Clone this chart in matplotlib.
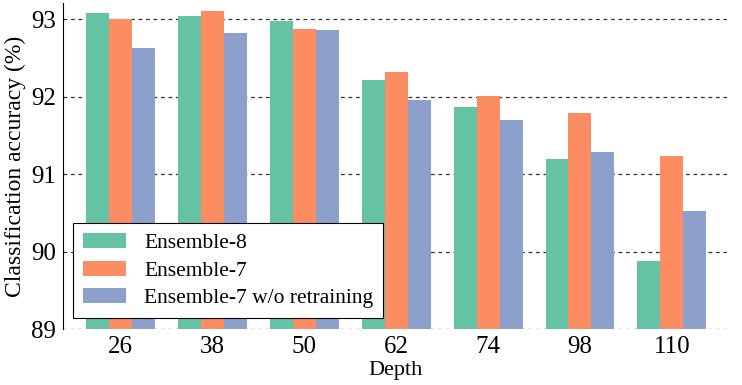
import numpy as np
import matplotlib.pyplot as plt

depths = ["26", "38", "50", "62", "74", "98", "110"]
ensemble_8 = [93.08, 93.04, 92.98, 92.22, 91.87, 91.20, 89.88]
ensemble_7 = [93.00, 93.11, 92.87, 92.32, 92.01, 91.79, 91.24]
ensemble_7_noretrain = [92.63, 92.82, 92.86, 91.96, 91.70, 91.29, 90.52]

labels = ["Ensemble-8", "Ensemble-7", "Ensemble-7 w/o retraining"]
colors = ["#66c2a5", "#fc8d62", "#8da0cb"]

plt.rcParams['font.family'] = ['Liberation Serif', 'DejaVu Serif']

fig = plt.figure(figsize=(7.42, 3.85), dpi=100)
ax = fig.add_axes([0.085, 0.145, 0.895, 0.847])

x = np.arange(len(depths))
w = 0.25
series = [ensemble_8, ensemble_7, ensemble_7_noretrain]
for i, (vals, lab, col) in enumerate(zip(series, labels, colors)):
    ax.bar(x + (i - 1) * w, np.array(vals) - 89, w, bottom=89, color=col, label=lab)

ax.set_ylim(89, 93.21)
ax.set_xlim(-0.62, 6.6)
ax.set_yticks([89, 90, 91, 92, 93])
ax.set_xticks(x)
ax.set_xticklabels(depths)
ax.tick_params(length=0, labelsize=18, pad=5)
ax.grid(axis='y', linestyle=(0, (3, 3)), color='#333333', lw=0.9)
ax.set_axisbelow(True)

for s in ['top', 'right', 'bottom']:
    ax.spines[s].set_visible(False)
ax.spines['left'].set_color('black')

ax.set_xlabel("Depth", fontsize=16, labelpad=2)
ax.set_ylabel("Classification accuracy (%)", fontsize=17, labelpad=4)

leg = ax.legend(loc='lower left', bbox_to_anchor=(0.015, 0.034), borderaxespad=0,
                fontsize=15.5, handlelength=2.0, handleheight=0.7, handletextpad=0.85,
                fancybox=False, edgecolor='black', framealpha=1,
                borderpad=0.45, labelspacing=0.35)
leg.get_frame().set_linewidth(0.8)

fig.savefig("out.png", dpi=100)
